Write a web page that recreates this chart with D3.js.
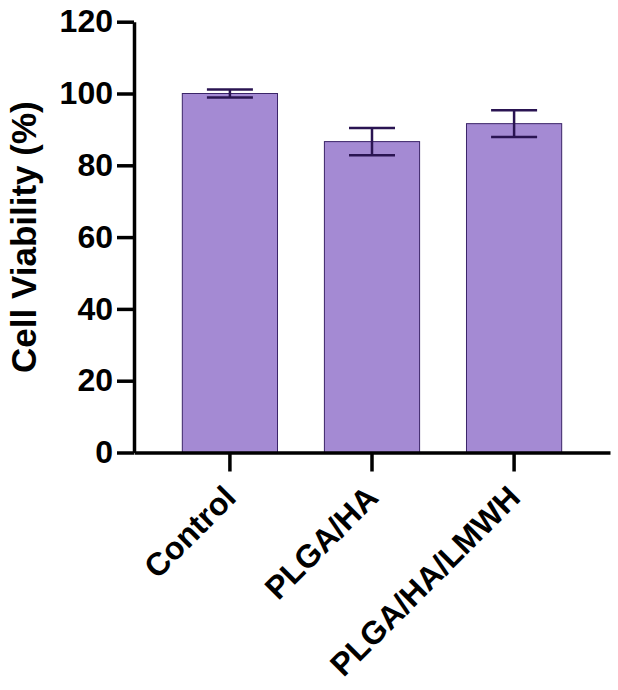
<!DOCTYPE html>
<html>
<head>
<meta charset="utf-8">
<script src="https://cdn.jsdelivr.net/npm/d3@7"></script>
<style>
  body { margin: 0; background: #fff; }
  text { font-family: "Liberation Sans", Arial, Helvetica, sans-serif; font-weight: bold; }
</style>
</head>
<body>
<div id="chart"></div>
<script>
// data
var groups = ["Control", "PLGA/HA", "PLGA/HA/LMWH"];
var means = [100, 86.6, 91.6];
var errors = [1.1, 3.8, 3.7];
var yTicks = [0, 20, 40, 60, 80, 100, 120];

var data = groups.map(function (g, i) {
    return { group: g, value: means[i], err: errors[i] };
});

var width = 618, height = 690;
var axisX = 134, axisY = 452.5, plotTop = 21.7, plotRight = 610;

var svg = d3.select("#chart").append("svg")
    .attr("width", width)
    .attr("height", height);

var x = d3.scaleBand()
    .domain(groups)
    .range([axisX, plotRight])
    .paddingInner(0.33)
    .paddingOuter(0.34);

var y = d3.scaleLinear()
    .domain([0, 120])
    .range([axisY, plotTop]);

// bars
svg.selectAll("rect.bar")
    .data(data)
    .enter()
    .append("rect")
    .attr("class", "bar")
    .attr("x", function (d) { return x(d.group); })
    .attr("y", function (d) { return y(d.value); })
    .attr("width", x.bandwidth())
    .attr("height", function (d) { return y(0) - y(d.value); })
    .attr("fill", "#a48ad3")
    .attr("stroke", "#3a2468")
    .attr("stroke-width", 1);

// error bars
var capW = 46;
var cx = function (d) { return x(d.group) + x.bandwidth() / 2; };
var eb = svg.selectAll("g.err")
    .data(data)
    .enter()
    .append("g")
    .attr("class", "err")
    .attr("stroke", "#2a1452")
    .attr("stroke-width", 2.5);

eb.append("line")
    .attr("x1", cx)
    .attr("x2", cx)
    .attr("y1", function (d) { return y(d.value - d.err); })
    .attr("y2", function (d) { return y(d.value + d.err); });

eb.append("line")
    .attr("x1", function (d) { return cx(d) - capW / 2; })
    .attr("x2", function (d) { return cx(d) + capW / 2; })
    .attr("y1", function (d) { return y(d.value + d.err); })
    .attr("y2", function (d) { return y(d.value + d.err); });

eb.append("line")
    .attr("x1", function (d) { return cx(d) - capW / 2; })
    .attr("x2", function (d) { return cx(d) + capW / 2; })
    .attr("y1", function (d) { return y(d.value - d.err); })
    .attr("y2", function (d) { return y(d.value - d.err); });

// y axis
var yAxis = svg.append("g")
    .attr("transform", "translate(" + axisX + ",0)")
    .call(d3.axisLeft(y).tickValues(yTicks).tickSize(17).tickSizeOuter(0).tickPadding(4));

// x axis
var xAxis = svg.append("g")
    .attr("transform", "translate(0," + axisY + ")")
    .call(d3.axisBottom(x).tickSize(19).tickSizeOuter(0));

svg.selectAll(".domain, .tick line")
    .attr("stroke", "#000")
    .attr("stroke-width", 3.5);

yAxis.selectAll("text")
    .attr("font-size", 32)
    .attr("fill", "#000");

xAxis.selectAll("text")
    .attr("font-size", 32)
    .attr("fill", "#000")
    .attr("text-anchor", "end")
    .attr("y", 0)
    .attr("dy", 0)
    .attr("transform", "translate(8,47) rotate(-45)");

// y title
svg.append("text")
    .attr("transform", "translate(36," + ((plotTop + axisY) / 2) + ") rotate(-90)")
    .attr("text-anchor", "middle")
    .attr("font-size", 35)
    .text("Cell Viability (%)");
</script>
</body>
</html>
